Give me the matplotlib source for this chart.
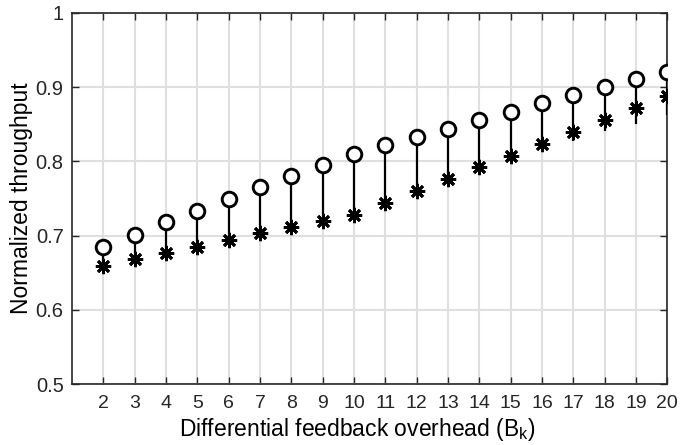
import matplotlib
matplotlib.use("Agg")
import matplotlib.pyplot as plt
from matplotlib.ticker import FuncFormatter

plt.rcParams['font.family'] = ['Liberation Sans', 'DejaVu Sans']

# Cell
overhead = [2, 3, 4, 5, 6, 7, 8, 9, 10, 11, 12, 13, 14, 15, 16, 17, 18, 19, 20]
upper = [0.685, 0.701, 0.718, 0.733, 0.749, 0.765, 0.780, 0.795, 0.810, 0.822,
         0.833, 0.844, 0.856, 0.867, 0.878, 0.889, 0.900, 0.911, 0.921]
star = [0.659, 0.668, 0.677, 0.685, 0.694, 0.703, 0.712, 0.720, 0.728, 0.744,
        0.760, 0.776, 0.792, 0.807, 0.824, 0.839, 0.856, 0.872, 0.888]
lower = [0.659, 0.668, 0.677, 0.685, 0.694, 0.703, 0.712, 0.720, 0.728, 0.744,
         0.760, 0.776, 0.792, 0.805, 0.816, 0.828, 0.841, 0.851, 0.862]
yticks = [0.5, 0.6, 0.7, 0.8, 0.9, 1.0]

fig = plt.figure(figsize=(6.89, 4.45), dpi=100)
ax = fig.add_axes([0.1045, 0.137, 0.864, 0.834])

ax.vlines(overhead, lower, upper, colors='black', linewidth=1.6, zorder=3)
ax.plot(overhead, star, linestyle='none', marker=(8, 2, 0), markersize=11,
        markeredgewidth=2.0, color='black', zorder=4)
ax.plot(overhead, upper, linestyle='none', marker='o', markersize=10.5,
        markeredgewidth=2.1, markerfacecolor='white', markeredgecolor='black', zorder=5)

ax.set_xlim(1, 20)
ax.set_ylim(0.5, 1.0)
ax.set_xticks(overhead)
ax.set_yticks(yticks)
ax.yaxis.set_major_formatter(FuncFormatter(lambda v, p: '%g' % v))
ax.grid(True, color='#dfdfdf', linewidth=1.5)
ax.set_axisbelow(True)

ax.tick_params(direction='in', length=5, width=1.0, top=True, right=True,
               labelsize=14.5, colors='#262626')
ax.tick_params(axis='x', pad=8, labelsize=14)
ax.tick_params(axis='y', pad=6)
for s in ax.spines.values():
    s.set_color('#262626')
    s.set_linewidth(1.2)

ax.set_xlabel('Differential feedback overhead (B$_\\mathregular{k}$)', fontsize=16.5)
ax.xaxis.set_label_coords(0.48, -0.085, transform=ax.transAxes)
ax.xaxis.label.set_va('top')
ax.set_ylabel('Normalized throughput', fontsize=16.5, labelpad=2)

fig.savefig('out.png', dpi=100)
